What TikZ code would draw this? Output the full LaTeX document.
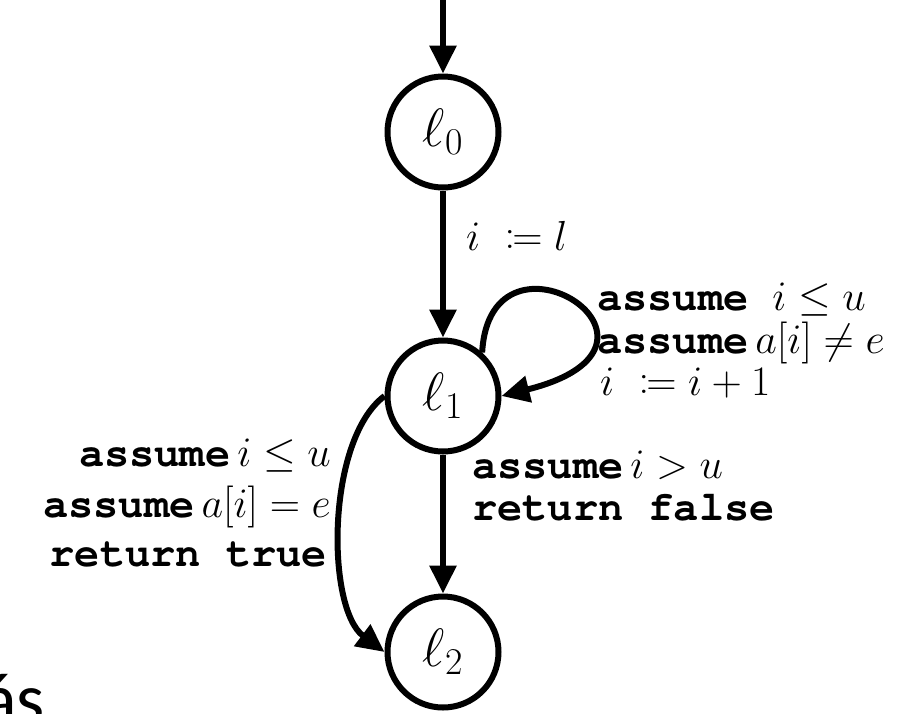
\RequirePackage{fix-cm}
\documentclass[tikz,border=0pt]{standalone}
\usepackage{mathtools,amssymb}
\usepackage{fontspec}
\IfFontExistsTF{TeX Gyre Cursor}{\newfontfamily\courf{TeX Gyre Cursor}}{\newcommand{\courf}{\ttfamily}}
\newfontfamily\carl{Carlito}
\usetikzlibrary{arrows.meta}
\newcommand{\kw}[1]{{\courf\bfseries #1}}
\begin{document}
\begin{tikzpicture}[x=1pt,y=-1pt,
  every node/.style={font=\fontsize{42}{50}\selectfont},
  state/.style={circle,draw,line width=6pt,minimum size=111pt,inner sep=0pt,
    font=\fontsize{54}{60}\selectfont},
  edge/.style={line width=6pt,-{Triangle[length=28pt,width=26pt]}},
  lbl/.style={inner sep=0pt}]
\useasboundingbox (0,0) rectangle (921,713);
\node[state] (l0) at (443,132) {$\ell_0$};
\node[state] (l1) at (443,396) {$\ell_1$};
\node[state] (l2) at (443,652) {$\ell_2$};
\coordinate (top) at (443,-4);
\draw[edge] (top) -- (l0);
\draw[edge] (l0) -- (l1);
\draw[edge] (l1) -- (l2);
\draw[edge] (l1.48) .. controls (490,210) and (705,345) .. (l1.east);
\draw[edge] (l1.west) .. controls (326,440) and (326,608) .. (l2.west);
\node[lbl,anchor=base west] (t1) at (466,250) {$i\ \coloneqq l$};
\node[lbl,anchor=base west] (r1) at (597,310) {\kw{assume}\hspace{24pt}$i\leq u$};
\node[lbl,anchor=base west] (r2) at (597,353) {\kw{assume}\,$a[i]\neq e$};
\node[lbl,anchor=base west] (r3) at (600,395) {$i\ \coloneqq i+1$};
\node[lbl,anchor=base west] (d1) at (472,478) {\kw{assume}\,$i>u$};
\node[lbl,anchor=base west] (d2) at (472,520) {\kw{return false}};
\node[lbl,anchor=base east] (c1) at (331,466) {\kw{assume}\,$i\leq u$};
\node[lbl,anchor=base east] (c2) at (331,517) {\kw{assume}\,$a[i]=e$};
\node[lbl,anchor=base east] (c3) at (327,566) {\kw{return true}};
\node[lbl,anchor=base west,font=\carl\fontsize{72}{80}\selectfont] (as) at (-18,723) {ás};
\end{tikzpicture}
\end{document}
